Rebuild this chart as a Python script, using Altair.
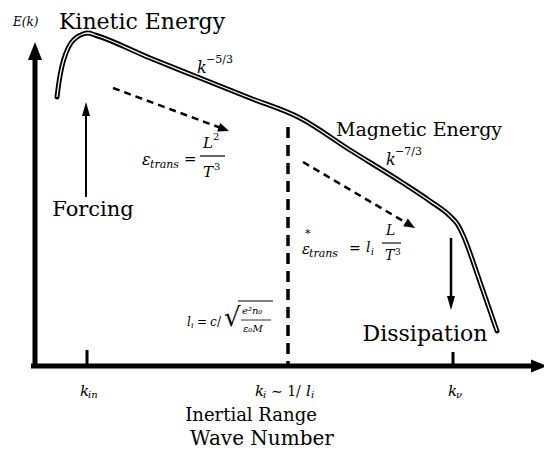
import math
import altair as alt
import pandas as pd

# ---------------- data (schematic: horizontal = wave number position, vertical = energy position, top = 8) -------------
curve_k = [57, 59, 62, 66, 71, 77, 83, 88, 95, 150, 200, 250, 300, 350, 403, 430, 450, 458, 463, 480, 497]
curve_E = [97, 82, 66, 53, 43, 37, 34, 33, 35, 58, 78, 98, 118, 150, 183, 201, 216, 225, 235, 282, 331]

tick_k = [87, 453]          # k_in, k_nu tick marks
tick_top = [350, 352]
k_i_pos = 288               # dashed inertial boundary
axis_y = 366
axis_x = 35

# arrows: (x0, y0, tip_x, tip_y, head_len, head_width, shaft_width, dashed)
arrows = [
    (35, 368, 35, 42, 18, 14, 5, False),      # E(k) axis
    (31, 366, 547, 366, 16, 13, 5, False),    # k axis
    (86, 197, 86, 102, 14, 8, 2, False),      # forcing
    (451, 238, 451, 310, 14, 8, 2.5, False),  # dissipation
    (113, 88, 229, 131, 11, 9, 2.5, True),    # energy transfer
    (303, 162, 415, 228, 11, 9, 2.5, True),   # energy transfer (Hall)
]

FONT = "DejaVu Serif"

# text pieces: (text, x, y, size)
upright_center = [
    ("Kinetic Energy", 142, 22, 22),
    ("Magnetic Energy", 419, 130, 19),
    ("Forcing", 93, 210, 21),
    ("Dissipation", 425, 334, 22),
    ("Inertial Range", 251, 416, 18),
    ("Wave Number", 262, 439, 20),
]
italic_left = [
    ("E(k)", 13, 22, 12),
    ("k", 197, 68, 16), ("k", 386, 160, 16),
    ("ε", 142, 160, 16), ("trans", 150, 165, 11),
    ("L", 203, 143, 15), ("T", 203, 172, 15),
    ("ε", 302, 249, 15), ("trans", 309, 254, 11),
    ("l", 366, 248, 14), ("i", 371, 252, 9),
    ("L", 386, 231, 14), ("T", 385, 256, 14),
    ("l", 187, 322, 12), ("i", 191, 326, 8), ("c", 210, 322, 12),
    ("e²n₀", 242, 311, 10), ("ε₀M", 243, 329, 10),
    ("k", 80, 391, 15), ("in", 88, 395, 10),
    ("k", 255, 391, 15), ("i", 263, 395, 10),
    ("l", 306, 391, 15), ("i", 311, 395, 10),
    ("k", 448, 391, 15), ("ν", 456, 395, 10),
]
upright_left = [
    ("−5/3", 206, 60, 11), ("−7/3", 395, 152, 11),
    ("=", 184, 159, 15), ("2", 213, 137, 10), ("3", 214, 167, 10),
    ("*", 305, 234, 11), ("=", 349, 249, 14), ("3", 395, 252, 9),
    ("=", 197, 322, 12), ("/", 217, 322, 12), ("√", 224, 318, 26),
    ("∼ 1/", 271, 392, 14),
]
# thin bars: (x0, x1, y, width)
bars = [
    (200, 225, 156, 1.2),
    (382, 401, 243, 1.1),
    (238, 273, 301, 1.0),
    (241, 271, 320, 0.8),
]

# ---------------- chart -------------
X = lambda f="x": alt.X(f + ":Q", scale=alt.Scale(domain=[8, 544], nice=False, zero=False), axis=None)
Y = lambda f="y": alt.Y(f + ":Q", scale=alt.Scale(domain=[8, 451], nice=False, zero=False, reverse=True), axis=None)

layers = []

# axes ticks and dashed inertial line
tick_df = pd.DataFrame({"x": tick_k, "y": tick_top, "y2": [axis_y] * len(tick_k)})
layers.append(alt.Chart(tick_df).mark_rule(color="black", strokeWidth=3).encode(
    x=X(), y=Y(), y2="y2:Q"))
dash_df = pd.DataFrame({"x": [k_i_pos], "y": [127], "y2": [axis_y]})
layers.append(alt.Chart(dash_df).mark_rule(color="black", strokeWidth=3.5, strokeDash=[11, 7]).encode(
    x=X(), y=Y(), y2="y2:Q"))

# arrows
for (x0, y0, tx, ty, L, W, sw, dashed) in arrows:
    dx, dy = tx - x0, ty - y0
    d = math.hypot(dx, dy)
    ux, uy = dx / d, dy / d
    cx, cy = tx - ux * L / 2, ty - uy * L / 2
    ang = math.degrees(math.atan2(dx, -dy)) % 360
    ex, ey = (cx, cy) if not dashed else (tx - ux * L * 0.8, ty - uy * L * 0.8)
    sdf = pd.DataFrame({"x": [x0], "y": [y0], "x2": [ex], "y2": [ey]})
    kw = dict(color="black", strokeWidth=sw)
    if dashed:
        kw["strokeDash"] = [7, 5]
    layers.append(alt.Chart(sdf).mark_rule(**kw).encode(x=X(), y=Y(), x2="x2:Q", y2="y2:Q"))
    w = W / L
    path = f"M0,-1L{w:.3f},1L-{w:.3f},1Z"
    hdf = pd.DataFrame({"x": [cx], "y": [cy], "a": [ang]})
    layers.append(alt.Chart(hdf).mark_point(shape=path, filled=True, color="black", opacity=1,
                                            size=L * L, strokeWidth=0).encode(
        x=X(), y=Y(), angle=alt.Angle("a:Q", scale=None)))

# spectrum curve (double line)
cdf = pd.DataFrame({"x": curve_k, "y": curve_E, "i": list(range(len(curve_k)))})
layers.append(alt.Chart(cdf).mark_line(color="black", strokeWidth=5, strokeJoin="round", strokeCap="round",
                                       interpolate="monotone").encode(
    x=X(), y=Y(), order="i:Q"))
layers.append(alt.Chart(cdf).mark_line(color="white", strokeWidth=1.3, strokeJoin="round",
                                       interpolate="monotone").encode(
    x=X(), y=Y(), order="i:Q"))

# fraction / root bars
bdf = pd.DataFrame(bars, columns=["x", "x2", "y", "w"])
layers.append(alt.Chart(bdf).mark_rule(color="black").encode(
    x=X(), x2="x2:Q", y=Y(), strokeWidth=alt.StrokeWidth("w:Q", scale=None)))


def text_layer(items, align, italic):
    df = pd.DataFrame(items, columns=["t", "x", "y", "s"])
    kw = dict(font=FONT, align=align, baseline="middle", color="black")
    if italic:
        kw["fontStyle"] = "italic"
    return alt.Chart(df).mark_text(**kw).encode(
        x=X(), y=Y(), text="t:N", size=alt.Size("s:Q", scale=None))


layers.append(text_layer(upright_center, "center", False))
layers.append(text_layer(italic_left, "left", True))
layers.append(text_layer(upright_left, "left", False))

chart = alt.layer(*layers).properties(
    width=536, height=443, autosize="none", padding=0, background="white"
).configure_view(stroke=None)

chart.save("out.html", embed_options={"renderer": "svg", "actions": False})
